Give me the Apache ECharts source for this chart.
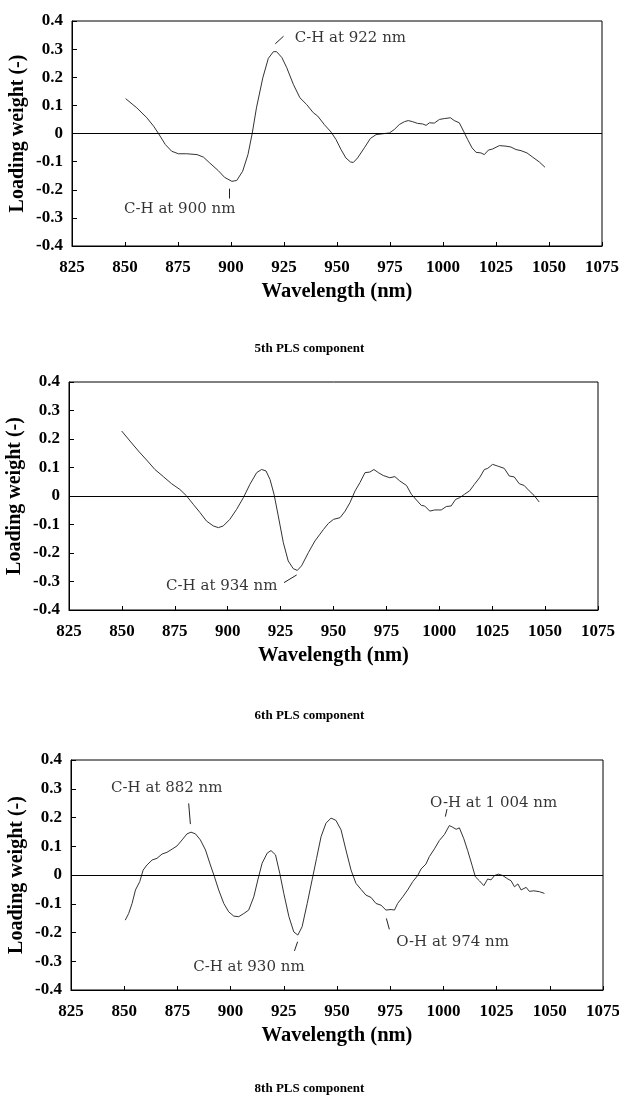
<!DOCTYPE html>
<html>
<head>
<meta charset="utf-8">
<script src="https://cdn.jsdelivr.net/npm/echarts@6/dist/echarts.min.js"></script>
<style>
html,body{margin:0;padding:0;background:#fff;}
#chart{width:619px;height:1098px;}
</style>
</head>
<body>
<div id="chart"></div>
<script>
// ---- axis ticks ----
const xTicks = [825, 850, 875, 900, 925, 950, 975, 1000, 1025, 1050, 1075];
const yTicks = [-0.4, -0.3, -0.2, -0.1, 0, 0.1, 0.2, 0.3, 0.4];
const panelTitles = ['5th PLS component', '6th PLS component', '8th PLS component'];
const xAxisName = 'Wavelength (nm)';
const yAxisName = 'Loading weight (-)';

// ---- 5th PLS component ----
const pc5Wl = [850.3,855.6,860.3,863.5,865.8,869,872,875.2,879,884,887,890,894,897,900.4,902.7,905.5,908,910,912,915,917.6,920,921.5,924,926.3,929.4,932.5,935.7,938.8,940.9,944,947.2,949.5,951.9,954.2,956.3,957.7,959.7,962.9,965.7,968.4,971.5,974.7,977,979.4,981.8,983.6,985.7,988,990.4,992,993.6,995.9,998.3,1000.6,1003.5,1005.3,1007.7,1009.7,1011.6,1013.7,1015.6,1017.9,1019.5,1021.4,1023.4,1026.6,1029.7,1032,1034.4,1036.8,1039.6,1042.3,1045.4,1048.1];
const pc5Val = [0.124,0.091,0.056,0.026,0.0,-0.039,-0.063,-0.072,-0.072,-0.075,-0.084,-0.105,-0.132,-0.156,-0.170,-0.167,-0.134,-0.075,0.0,0.091,0.198,0.267,0.291,0.291,0.270,0.234,0.175,0.127,0.103,0.074,0.062,0.032,0.005,-0.021,-0.057,-0.087,-0.101,-0.103,-0.087,-0.051,-0.018,-0.004,-0.001,0.002,0.014,0.032,0.042,0.046,0.042,0.036,0.034,0.029,0.038,0.037,0.050,0.053,0.056,0.046,0.038,0.008,-0.021,-0.051,-0.067,-0.069,-0.075,-0.059,-0.055,-0.043,-0.045,-0.048,-0.057,-0.061,-0.069,-0.084,-0.101,-0.120];
const pc5NoteText = ['C-H at 922 nm', 'C-H at 900 nm'];
const pc5NoteAt = [[956.3, 0.340], [875.8, -0.270]];
const pc5Leaders = [[[920.9, 0.319], [924.8, 0.346]], [[899.3, -0.196], [899.3, -0.231]]];

// ---- 6th PLS component ----
const pc6Wl = [849.9,853.8,857.8,861.7,865.6,869.6,873.5,877.4,880.6,883.7,886.9,890,893.2,895.6,897.9,901,904.2,907.4,910.5,913.7,916,918.1,920,921.9,923.9,926.3,928.6,931,932.9,934.9,938.1,941.2,943.6,945.3,947.6,950,953.1,955.5,957.8,960.2,962.5,964.9,967.2,969.1,971.2,973.5,976.6,979,981.3,984.5,986.8,989.2,991.5,993.1,995.5,997.8,1000.9,1003.3,1005.6,1007.7,1009.6,1011.9,1014.3,1016.6,1019,1021.3,1022.9,1025.2,1027.6,1030.7,1033.1,1035.4,1037.8,1040.1,1042.5,1044.8,1047.2];
const pc6Val = [0.228,0.193,0.158,0.126,0.093,0.068,0.043,0.023,0.0,-0.029,-0.058,-0.088,-0.105,-0.111,-0.105,-0.082,-0.047,-0.006,0.041,0.082,0.093,0.088,0.058,0.006,-0.070,-0.164,-0.228,-0.255,-0.261,-0.245,-0.199,-0.158,-0.134,-0.117,-0.096,-0.082,-0.076,-0.053,-0.023,0.018,0.047,0.082,0.084,0.093,0.082,0.072,0.064,0.068,0.053,0.037,0.006,-0.014,-0.033,-0.035,-0.053,-0.049,-0.049,-0.037,-0.035,-0.012,-0.006,0.006,0.018,0.041,0.064,0.093,0.097,0.111,0.105,0.097,0.070,0.067,0.043,0.037,0.018,0.002,-0.021];
const pc6NoteText = ['C-H at 934 nm'];
const pc6NoteAt = [[897.2, -0.316]];
const pc6Leaders = [[[926.6, -0.304], [932.6, -0.277]]];

// ---- 8th PLS component ----
const pc8Wl = [850.5,852.1,853.7,855.3,857.3,858.9,860.7,863.1,865.4,867.8,870.1,872.5,874.8,877.2,879.5,881.4,883.5,885.8,888.2,890.5,892.4,894.4,896.8,899.1,901.5,903.8,906.2,908.5,910.9,912.8,914.8,917.2,919,921.1,923.1,925,927.4,929.7,931.6,933.6,936,938.3,940.4,942.5,944.8,947.2,949.5,951.9,954.2,956.6,958.9,961.3,963.6,966,968.3,970.7,973,975.4,977,978.5,980.9,983.2,985.6,987.9,989.5,991.8,993.4,995.8,998.1,1000.5,1002.8,1004.4,1006,1007.5,1009.6,1011.4,1013.5,1015,1016.9,1019,1020.8,1022.4,1024,1025.9,1027.9,1030.3,1031.8,1033.4,1035,1036.5,1038.9,1040.4,1042.5,1045.1,1047.5];
const pc8Val = [-0.157,-0.134,-0.099,-0.052,-0.023,0.017,0.035,0.052,0.058,0.073,0.079,0.090,0.101,0.122,0.143,0.149,0.143,0.122,0.087,0.035,-0.006,-0.052,-0.099,-0.128,-0.143,-0.145,-0.134,-0.122,-0.076,-0.017,0.041,0.076,0.085,0.070,0.006,-0.064,-0.145,-0.198,-0.209,-0.180,-0.099,-0.017,0.058,0.133,0.180,0.198,0.190,0.157,0.087,0.017,-0.029,-0.050,-0.070,-0.078,-0.099,-0.105,-0.122,-0.120,-0.122,-0.099,-0.076,-0.052,-0.023,-0.002,0.021,0.038,0.064,0.091,0.120,0.141,0.172,0.166,0.159,0.164,0.126,0.085,0.033,-0.006,-0.020,-0.037,-0.014,-0.017,-0.002,0.003,-0.002,-0.014,-0.020,-0.041,-0.031,-0.052,-0.043,-0.057,-0.055,-0.058,-0.064];
const pc8NoteText = ['C-H at 882 nm', 'C-H at 930 nm', 'O-H at 1 004 nm', 'O-H at 974 nm'];
const pc8NoteAt = [[870.0, 0.302], [908.6, -0.319], [1023.6, 0.251], [1004.3, -0.235]];
const pc8Leaders = [[[880.3, 0.249], [881.1, 0.177]], [[930.0, -0.264], [931.5, -0.232]], [[1000.9, 0.203], [1001.7, 0.229]], [[973.2, -0.151], [974.6, -0.189]]];

// ---- build ----
const panels = [
  {wl: pc5Wl, val: pc5Val, text: pc5NoteText, at: pc5NoteAt, leaders: pc5Leaders},
  {wl: pc6Wl, val: pc6Val, text: pc6NoteText, at: pc6NoteAt, leaders: pc6Leaders},
  {wl: pc8Wl, val: pc8Val, text: pc8NoteText, at: pc8NoteAt, leaders: pc8Leaders}
];
const layout = [
  {left: 72, top: 21, width: 530, height: 225, titleTop: 337},
  {left: 69, top: 382, width: 529, height: 228, titleTop: 704},
  {left: 71, top: 760, width: 532, height: 230, titleTop: 1077}
];
const serifBold = {fontFamily: '"Liberation Serif", "Times New Roman", serif', fontWeight: 'bold', color: '#000'};
const pickTick = (list, v) => {
  const t = list.find(k => Math.abs(k - v) < 1e-6);
  return t === undefined ? '' : String(t);
};

const grids = [], xAxes = [], yAxes = [], series = [], titles = [];
panels.forEach((p, i) => {
  const L = layout[i];
  grids.push({left: L.left, top: L.top, width: L.width, height: L.height, show: true,
    borderColor: '#000', borderWidth: 1, backgroundColor: 'transparent',
    containLabel: false, outerBoundsMode: 'none'});
  xAxes.push({
    type: 'value', gridIndex: i,
    min: xTicks[0], max: xTicks[xTicks.length - 1], interval: xTicks[1] - xTicks[0],
    axisLine: {show: true, onZero: false, lineStyle: {color: '#000', width: 1}},
    axisTick: {show: true, inside: true, length: 4, lineStyle: {color: '#000'}},
    splitLine: {show: false},
    axisLabel: Object.assign({fontSize: 17, margin: 13, formatter: v => pickTick(xTicks, v)}, serifBold),
    name: xAxisName, nameLocation: 'middle', nameGap: 35, nameMoveOverlap: false,
    nameTextStyle: Object.assign({fontSize: 20.5}, serifBold)
  });
  yAxes.push({
    type: 'value', gridIndex: i,
    min: yTicks[0], max: yTicks[yTicks.length - 1], interval: 0.1,
    axisLine: {show: true, lineStyle: {color: '#000', width: 1}},
    axisTick: {show: true, inside: true, length: 5, lineStyle: {color: '#000'}},
    splitLine: {show: false},
    axisLabel: Object.assign({fontSize: 17, margin: 9, formatter: v => pickTick(yTicks, v)}, serifBold),
    name: yAxisName, nameLocation: 'middle', nameGap: 44, nameMoveOverlap: false,
    nameTextStyle: Object.assign({fontSize: 20}, serifBold)
  });
  series.push({
    type: 'line', xAxisIndex: i, yAxisIndex: i,
    data: p.wl.map((w, k) => [w, p.val[k]]),
    showSymbol: false, symbol: 'none', smooth: false,
    lineStyle: {color: '#333', width: 1},
    markLine: {
      silent: true, symbol: ['none', 'none'], animation: false,
      label: {show: false},
      lineStyle: {color: '#000', width: 1.2, type: 'solid'},
      data: [{yAxis: 0}]
    }
  });
  series.push({
    type: 'scatter', xAxisIndex: i, yAxisIndex: i,
    symbolSize: 0, silent: true,
    data: p.at.map((a, k) => ({value: a, name: p.text[k]})),
    label: {show: true, position: 'inside', formatter: d => d.name,
      fontFamily: '"DejaVu Serif", serif', fontSize: 15, color: '#000'},
    markLine: {
      silent: true, symbol: ['none', 'none'], animation: false,
      label: {show: false},
      lineStyle: {color: '#222', width: 1, type: 'solid'},
      data: p.leaders.map(seg => [{coord: seg[0]}, {coord: seg[1]}])
    }
  });
  titles.push({
    text: panelTitles[i], left: 'center', top: L.titleTop,
    textStyle: Object.assign({fontSize: 13}, serifBold)
  });
});

const chart = echarts.init(document.getElementById('chart'), null, {renderer: 'canvas'});
chart.setOption({
  animation: false,
  backgroundColor: '#fff',
  title: titles,
  grid: grids,
  xAxis: xAxes,
  yAxis: yAxes,
  series: series
});
</script>
</body>
</html>
